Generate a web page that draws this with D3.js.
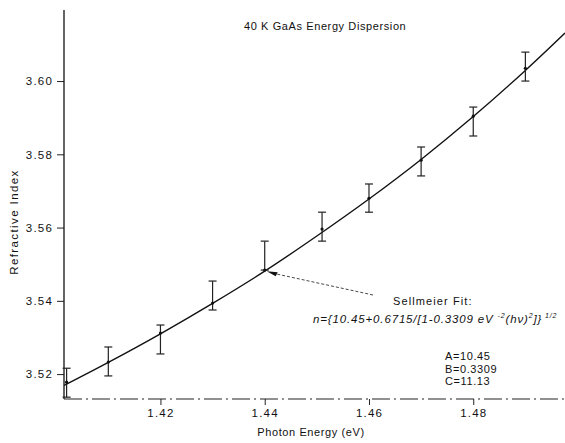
<!DOCTYPE html>
<html>
<head>
<meta charset="utf-8">
<script src="https://cdn.jsdelivr.net/npm/d3@7"></script>
<style>
	body { margin: 0; background: #fff; }
	svg { display: block; }
	text { font-family: "Liberation Sans", Arial, sans-serif; fill: #111; letter-spacing: 0.5px; }
</style>
</head>
<body>
<script>
// measured points (photon energy in eV, refractive index)
var energies = [1.402, 1.41, 1.42, 1.43, 1.44, 1.451, 1.46, 1.47, 1.48, 1.49];
var refIndex = [3.5178, 3.5233, 3.5312, 3.5394, 3.5484, 3.5596, 3.5680, 3.5784, 3.5904, 3.6035];
var errHigh = [3.5216, 3.5274, 3.5334, 3.5454, 3.5563, 3.5642, 3.5719, 3.5820, 3.5929, 3.6079];
var errLow = [3.5137, 3.5195, 3.5255, 3.5375, 3.5484, 3.5563, 3.5642, 3.5741, 3.5850, 3.6000];

// Sellmeier fit curve
var fitEnergy = [1.4015, 1.41, 1.42, 1.43, 1.44, 1.45, 1.46, 1.47, 1.48, 1.49, 1.4976];
var fitIndex = [3.5169, 3.5232, 3.5310, 3.5393, 3.5481, 3.5577, 3.5678, 3.5786, 3.5903, 3.6029, 3.6131];

var xTicks = [1.42, 1.44, 1.46, 1.48];
var yTicks = [3.52, 3.54, 3.56, 3.58, 3.60];

var width = 565;
var height = 443;

var x = d3.scaleLinear().domain([1.4015, 1.4976]).range([64, 565]);
var y = d3.scaleLinear().domain([3.5132, 3.6194]).range([399, 10]);

var svg = d3.select('body').append('svg')
	.attr('width', width)
	.attr('height', height);

svg.append('defs').append('clipPath')
	.attr('id', 'plot')
	.append('rect')
	.attr('x', 64).attr('y', 0)
	.attr('width', width - 64).attr('height', 399);

// y axis
var yAxis = svg.append('g')
	.attr('transform', 'translate(64,0)')
	.call(d3.axisLeft(y).tickValues(yTicks).tickSize(7).tickPadding(4).tickFormat(d3.format('.2f')));
yAxis.select('.domain').remove();
yAxis.selectAll('text').style('font-size', '11.5px').style('letter-spacing', '1.2px').attr('fill', '#111');
yAxis.selectAll('line').attr('stroke', '#222');

svg.append('line')
	.attr('x1', 64).attr('x2', 64)
	.attr('y1', 10).attr('y2', 399)
	.attr('stroke', '#111')
	.attr('stroke-width', 1.3);

// x axis, dash-dot like the original
var xAxis = svg.append('g')
	.attr('transform', 'translate(0,399)')
	.call(d3.axisBottom(x).tickValues(xTicks).tickSize(6).tickPadding(4).tickFormat(d3.format('.2f')));
xAxis.select('.domain').remove();
xAxis.selectAll('text').style('font-size', '11.5px').style('letter-spacing', '1.2px').attr('fill', '#111');
xAxis.selectAll('line').attr('stroke', '#222');

svg.append('line')
	.attr('x1', 64).attr('x2', 565)
	.attr('y1', 399).attr('y2', 399)
	.attr('stroke', '#222')
	.attr('stroke-width', 1.1)
	.attr('stroke-dasharray', '18,4,2,4');

// fit line
var line = d3.line()
	.x(d => x(d[0]))
	.y(d => y(d[1]))
	.curve(d3.curveCatmullRom);

svg.append('path')
	.datum(fitEnergy.map((e, i) => [e, fitIndex[i]]))
	.attr('clip-path', 'url(#plot)')
	.attr('d', line)
	.attr('fill', 'none')
	.attr('stroke', '#111')
	.attr('stroke-width', 1.4);

// error bars
var bars = svg.append('g')
	.selectAll('g')
	.data(energies.map((e, i) => ({e: e, n: refIndex[i], lo: errLow[i], hi: errHigh[i]})))
	.join('g')
	.attr('stroke', '#222')
	.attr('stroke-width', 1.2);

bars.append('line')
	.attr('x1', d => x(d.e)).attr('x2', d => x(d.e))
	.attr('y1', d => y(d.hi)).attr('y2', d => y(d.lo));
bars.append('line')
	.attr('x1', d => x(d.e) - 4).attr('x2', d => x(d.e) + 4)
	.attr('y1', d => y(d.hi)).attr('y2', d => y(d.hi));
bars.append('line')
	.attr('x1', d => x(d.e) - 4).attr('x2', d => x(d.e) + 4)
	.attr('y1', d => y(d.lo)).attr('y2', d => y(d.lo));
bars.append('circle')
	.attr('cx', d => x(d.e)).attr('cy', d => y(d.n))
	.attr('r', 1.6)
	.attr('fill', '#111')
	.attr('stroke', 'none');

// annotation pointing at the fit
var tip = [x(1.44) + 2, y(3.5481)];
svg.append('line')
	.attr('x1', 373).attr('y1', 295)
	.attr('x2', tip[0] + 6).attr('y2', tip[1] + 2)
	.attr('stroke', '#333')
	.attr('stroke-width', 0.9)
	.attr('stroke-dasharray', '3,2');
svg.append('path')
	.attr('d', `M${tip[0]},${tip[1]} L${tip[0] + 11},${tip[1] + 1} L${tip[0] + 9},${tip[1] + 5} Z`)
	.attr('fill', '#111');

svg.append('text')
	.attr('x', 244).attr('y', 30)
	.style('font-size', '11px')
	.style('letter-spacing', '0.6px')
	.text('40 K GaAs Energy Dispersion');

svg.append('text')
	.attr('transform', 'translate(18,222) rotate(-90)')
	.attr('text-anchor', 'middle')
	.style('font-size', '11.5px')
	.style('letter-spacing', '1.4px')
	.text('Refractive  Index');

svg.append('text')
	.attr('x', 311).attr('y', 436)
	.attr('text-anchor', 'middle')
	.style('font-size', '11px')
	.style('letter-spacing', '0.6px')
	.text('Photon Energy (eV)');

svg.append('text')
	.attr('x', 393).attr('y', 305)
	.style('font-size', '11px')
	.style('letter-spacing', '1.1px')
	.text('Sellmeier  Fit:');

var formula = svg.append('text')
	.attr('x', 313).attr('y', 323)
	.style('font-size', '11.5px')
	.style('font-style', 'italic')
	.style('letter-spacing', '0.85px');
formula.append('tspan').text('n={10.45+0.6715/[1-0.3309  eV ');
formula.append('tspan').attr('dy', -5).style('font-size', '7px').text('-2');
formula.append('tspan').attr('dy', 5).text('(hν)');
formula.append('tspan').attr('dy', -5).style('font-size', '7px').text('2');
formula.append('tspan').attr('dy', 5).text(']}');
formula.append('tspan').attr('dy', -5).style('font-size', '7px').text(' 1/2');

var params = ['A=10.45', 'B=0.3309', 'C=11.13'];
svg.append('g')
	.selectAll('text')
	.data(params)
	.join('text')
	.attr('x', 445)
	.attr('y', (d, i) => 360 + i * 12.5)
	.style('font-size', '11px')
	.style('letter-spacing', '0.6px')
	.text(d => d);
</script>
</body>
</html>
